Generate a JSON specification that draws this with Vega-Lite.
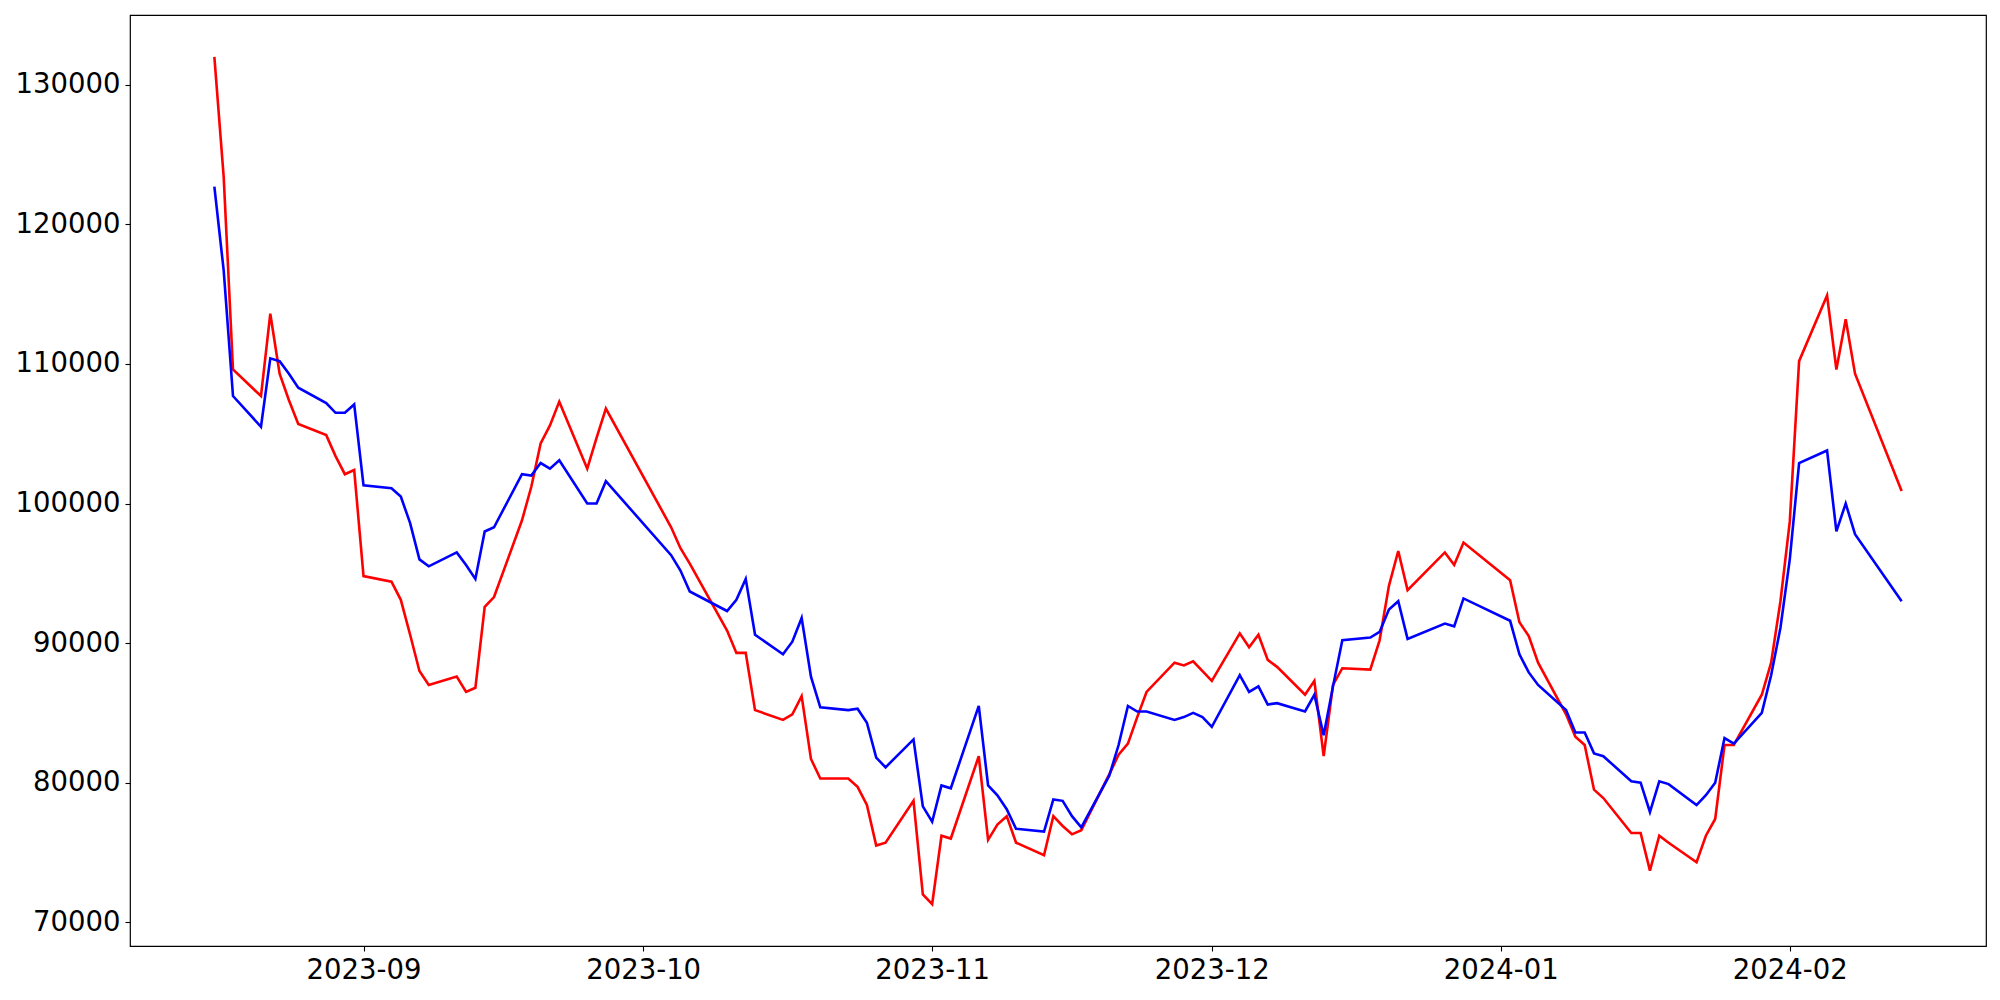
{
  "$schema": "https://vega.github.io/schema/vega-lite/v6.json",
  "width": 1856,
  "height": 931,
  "autosize": {"type": "none"},
  "padding": {"left": 130, "top": 15, "right": 14, "bottom": 54},
  "background": "white",
  "config": {
    "view": {"stroke": "black", "strokeWidth": 1.2},
    "font": "DejaVu Sans",
    "axis": {
      "grid": false,
      "domain": false,
      "ticks": true,
      "tickColor": "black",
      "tickSize": 5,
      "tickWidth": 1.1,
      "labelFont": "DejaVu Sans",
      "labelFontSize": 27.5,
      "labelColor": "black",
      "labelPadding": 5,
      "title": null
    }
  },
  "data": {
    "values": [
      {"date": "2023-08-16", "red": 132000, "blue": 122700},
      {"date": "2023-08-17", "red": 123400, "blue": 116700},
      {"date": "2023-08-18", "red": 109600, "blue": 107700},
      {"date": "2023-08-21", "red": 107700, "blue": 105500},
      {"date": "2023-08-22", "red": 113600, "blue": 110400},
      {"date": "2023-08-23", "red": 109300, "blue": 110200},
      {"date": "2023-08-24", "red": 107400, "blue": 109300},
      {"date": "2023-08-25", "red": 105700, "blue": 108300},
      {"date": "2023-08-28", "red": 104900, "blue": 107200},
      {"date": "2023-08-29", "red": 103400, "blue": 106500},
      {"date": "2023-08-30", "red": 102100, "blue": 106500},
      {"date": "2023-08-31", "red": 102400, "blue": 107100},
      {"date": "2023-09-01", "red": 94800, "blue": 101300},
      {"date": "2023-09-04", "red": 94400, "blue": 101100},
      {"date": "2023-09-05", "red": 93100, "blue": 100500},
      {"date": "2023-09-06", "red": 90600, "blue": 98600},
      {"date": "2023-09-07", "red": 88000, "blue": 96000},
      {"date": "2023-09-08", "red": 87000, "blue": 95500},
      {"date": "2023-09-11", "red": 87600, "blue": 96500},
      {"date": "2023-09-12", "red": 86500, "blue": 95600},
      {"date": "2023-09-13", "red": 86800, "blue": 94600},
      {"date": "2023-09-14", "red": 92600, "blue": 98000},
      {"date": "2023-09-15", "red": 93300, "blue": 98300},
      {"date": "2023-09-18", "red": 98800, "blue": 102100},
      {"date": "2023-09-19", "red": 101200, "blue": 102000},
      {"date": "2023-09-20", "red": 104300, "blue": 102900},
      {"date": "2023-09-21", "red": 105600, "blue": 102500},
      {"date": "2023-09-22", "red": 107300, "blue": 103100},
      {"date": "2023-09-25", "red": 102500, "blue": 100000},
      {"date": "2023-09-26", "red": 104700, "blue": 100000},
      {"date": "2023-09-27", "red": 106800, "blue": 101600},
      {"date": "2023-10-04", "red": 98300, "blue": 96300},
      {"date": "2023-10-05", "red": 96800, "blue": 95200},
      {"date": "2023-10-06", "red": 95700, "blue": 93700},
      {"date": "2023-10-10", "red": 90900, "blue": 92300},
      {"date": "2023-10-11", "red": 89300, "blue": 93100},
      {"date": "2023-10-12", "red": 89300, "blue": 94600},
      {"date": "2023-10-13", "red": 85200, "blue": 90600},
      {"date": "2023-10-16", "red": 84500, "blue": 89200},
      {"date": "2023-10-17", "red": 84900, "blue": 90100},
      {"date": "2023-10-18", "red": 86200, "blue": 91800},
      {"date": "2023-10-19", "red": 81700, "blue": 87600},
      {"date": "2023-10-20", "red": 80300, "blue": 85400},
      {"date": "2023-10-23", "red": 80300, "blue": 85200},
      {"date": "2023-10-24", "red": 79700, "blue": 85300},
      {"date": "2023-10-25", "red": 78400, "blue": 84300},
      {"date": "2023-10-26", "red": 75500, "blue": 81800},
      {"date": "2023-10-27", "red": 75700, "blue": 81100},
      {"date": "2023-10-30", "red": 78700, "blue": 83100},
      {"date": "2023-10-31", "red": 72000, "blue": 78300},
      {"date": "2023-11-01", "red": 71300, "blue": 77200},
      {"date": "2023-11-02", "red": 76200, "blue": 79800},
      {"date": "2023-11-03", "red": 76000, "blue": 79600},
      {"date": "2023-11-06", "red": 81900, "blue": 85500},
      {"date": "2023-11-07", "red": 75900, "blue": 79800},
      {"date": "2023-11-08", "red": 77000, "blue": 79100},
      {"date": "2023-11-09", "red": 77600, "blue": 78100},
      {"date": "2023-11-10", "red": 75700, "blue": 76700},
      {"date": "2023-11-13", "red": 74800, "blue": 76500},
      {"date": "2023-11-14", "red": 77600, "blue": 78800},
      {"date": "2023-11-15", "red": 76900, "blue": 78700},
      {"date": "2023-11-16", "red": 76300, "blue": 77600},
      {"date": "2023-11-17", "red": 76600, "blue": 76800},
      {"date": "2023-11-20", "red": 80600, "blue": 80500},
      {"date": "2023-11-21", "red": 82000, "blue": 82700},
      {"date": "2023-11-22", "red": 82800, "blue": 85500},
      {"date": "2023-11-23", "red": 84700, "blue": 85100},
      {"date": "2023-11-24", "red": 86500, "blue": 85100},
      {"date": "2023-11-27", "red": 88600, "blue": 84500},
      {"date": "2023-11-28", "red": 88400, "blue": 84700},
      {"date": "2023-11-29", "red": 88700, "blue": 85000},
      {"date": "2023-11-30", "red": 88000, "blue": 84700},
      {"date": "2023-12-01", "red": 87300, "blue": 84000},
      {"date": "2023-12-04", "red": 90700, "blue": 87700},
      {"date": "2023-12-05", "red": 89700, "blue": 86500},
      {"date": "2023-12-06", "red": 90600, "blue": 86900},
      {"date": "2023-12-07", "red": 88800, "blue": 85600},
      {"date": "2023-12-08", "red": 88300, "blue": 85700},
      {"date": "2023-12-11", "red": 86300, "blue": 85100},
      {"date": "2023-12-12", "red": 87300, "blue": 86300},
      {"date": "2023-12-13", "red": 81900, "blue": 83400},
      {"date": "2023-12-14", "red": 87000, "blue": 86900},
      {"date": "2023-12-15", "red": 88200, "blue": 90200},
      {"date": "2023-12-18", "red": 88100, "blue": 90400},
      {"date": "2023-12-19", "red": 90200, "blue": 90800},
      {"date": "2023-12-20", "red": 94100, "blue": 92400},
      {"date": "2023-12-21", "red": 96600, "blue": 93000},
      {"date": "2023-12-22", "red": 93800, "blue": 90300},
      {"date": "2023-12-26", "red": 96500, "blue": 91400},
      {"date": "2023-12-27", "red": 95600, "blue": 91200},
      {"date": "2023-12-28", "red": 97200, "blue": 93200},
      {"date": "2024-01-02", "red": 94500, "blue": 91600},
      {"date": "2024-01-03", "red": 91500, "blue": 89200},
      {"date": "2024-01-04", "red": 90500, "blue": 87900},
      {"date": "2024-01-05", "red": 88600, "blue": 87000},
      {"date": "2024-01-08", "red": 84900, "blue": 85200},
      {"date": "2024-01-09", "red": 83300, "blue": 83600},
      {"date": "2024-01-10", "red": 82700, "blue": 83600},
      {"date": "2024-01-11", "red": 79500, "blue": 82100},
      {"date": "2024-01-12", "red": 78900, "blue": 81900},
      {"date": "2024-01-15", "red": 76400, "blue": 80100},
      {"date": "2024-01-16", "red": 76400, "blue": 80000},
      {"date": "2024-01-17", "red": 73700, "blue": 77900},
      {"date": "2024-01-18", "red": 76200, "blue": 80100},
      {"date": "2024-01-19", "red": 75700, "blue": 79900},
      {"date": "2024-01-22", "red": 74300, "blue": 78400},
      {"date": "2024-01-23", "red": 76200, "blue": 79100},
      {"date": "2024-01-24", "red": 77400, "blue": 80000},
      {"date": "2024-01-25", "red": 82700, "blue": 83200},
      {"date": "2024-01-26", "red": 82700, "blue": 82800},
      {"date": "2024-01-29", "red": 86300, "blue": 85000},
      {"date": "2024-01-30", "red": 88600, "blue": 87700},
      {"date": "2024-01-31", "red": 93000, "blue": 91100},
      {"date": "2024-02-01", "red": 98700, "blue": 96000},
      {"date": "2024-02-02", "red": 110200, "blue": 102900},
      {"date": "2024-02-05", "red": 114900, "blue": 103800},
      {"date": "2024-02-06", "red": 109600, "blue": 98000},
      {"date": "2024-02-07", "red": 113200, "blue": 100000},
      {"date": "2024-02-08", "red": 109300, "blue": 97800},
      {"date": "2024-02-13", "red": 100900, "blue": 93000}
    ]
  },
  "encoding": {
    "x": {
      "field": "date",
      "type": "temporal",
      "scale": {
        "type": "utc",
        "domain": [
          {"year": 2023, "month": 8, "date": 6, "hours": 22, "minutes": 48, "utc": true},
          {"year": 2024, "month": 2, "date": 22, "hours": 1, "minutes": 12, "utc": true}
        ]
      },
      "axis": {
        "labelExpr": "utcFormat(datum.value, '%Y-%m')",
        "values": [
          {"year": 2023, "month": 9, "date": 1, "utc": true},
          {"year": 2023, "month": 10, "date": 1, "utc": true},
          {"year": 2023, "month": 11, "date": 1, "utc": true},
          {"year": 2023, "month": 12, "date": 1, "utc": true},
          {"year": 2024, "month": 1, "date": 1, "utc": true},
          {"year": 2024, "month": 2, "date": 1, "utc": true}
        ],
        "labelFlush": false,
        "labelOverlap": false
      }
    }
  },
  "layer": [
    {
      "mark": {"type": "line", "color": "#ff0000", "strokeWidth": 2.6},
      "encoding": {
        "y": {
          "field": "red",
          "type": "quantitative",
          "scale": {"domain": [68300, 135000], "nice": false, "zero": false},
          "axis": {
            "values": [70000, 80000, 90000, 100000, 110000, 120000, 130000],
            "format": "d",
            "labelFlush": false,
            "labelOverlap": false
          }
        }
      }
    },
    {
      "mark": {"type": "line", "color": "#0000ff", "strokeWidth": 2.6},
      "encoding": {
        "y": {
          "field": "blue",
          "type": "quantitative"
        }
      }
    }
  ]
}
